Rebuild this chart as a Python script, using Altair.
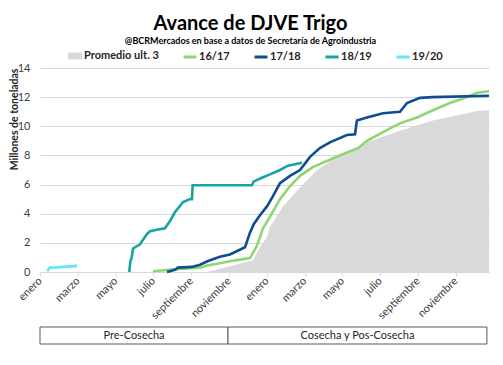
import altair as alt
import pandas as pd

# ---------------- data (x in months from January of the pre-harvest year) -------------
meses = ["enero", "febrero", "marzo", "abril", "mayo", "junio", "julio", "agosto",
         "septiembre", "octubre", "noviembre", "diciembre"]

prom_x = [8.84, 10.05, 11.27, 11.64, 12.01, 12.17, 12.86, 13.76, 14.66, 15.50, 16.40,
          17.30, 19.05, 20.79, 22.59, 23.12, 23.76]
prom_y = [0, 0.4, 0.8, 1.7, 2.4, 3.1, 4.5, 5.8, 7.0, 7.7, 8.2, 8.9, 9.7, 10.4, 10.9, 11.05, 11.1]

s1617_x = [5.98, 7.25, 8.47, 8.84, 9.52, 10.32, 11.11, 11.48, 11.80, 12.17, 12.70, 13.23,
           13.76, 14.44, 15.34, 16.24, 16.83, 17.30, 18.15, 19.05, 19.95, 20.79, 21.69,
           22.59, 23.12, 23.76]
s1617_y = [0.05, 0.2, 0.3, 0.45, 0.6, 0.8, 0.95, 1.8, 3.0, 3.8, 5.0, 5.9, 6.6, 7.2, 7.7,
           8.2, 8.5, 9.0, 9.6, 10.2, 10.6, 11.1, 11.6, 12.0, 12.3, 12.4]

s1718_x = [6.72, 7.14, 7.30, 8.04, 8.47, 8.89, 9.52, 10.05, 10.85, 11.11, 11.32, 11.64,
           12.01, 12.33, 12.70, 13.23, 13.76, 14.29, 14.81, 15.34, 16.24, 16.67, 16.77,
           17.30, 18.15, 19.05, 19.42, 20.11, 20.79, 23.76]
s1718_y = [0, 0.15, 0.3, 0.35, 0.5, 0.75, 1.05, 1.2, 1.7, 2.7, 3.3, 3.9, 4.5, 5.2, 6.1,
           6.6, 7.0, 7.9, 8.5, 8.9, 9.4, 9.45, 10.4, 10.6, 10.9, 11.0, 11.6, 11.95, 12.0, 12.1]

s1819_x = [4.72, 4.79, 4.84, 4.92, 5.03, 5.29, 5.66, 5.82, 6.19, 6.61, 6.88, 7.14, 7.57,
           7.94, 8.04, 8.08, 11.22, 11.30, 11.80, 12.17, 12.70, 13.12, 13.86]
s1819_y = [0, 0.8, 0.9, 1.6, 1.7, 1.9, 2.6, 2.8, 2.9, 3.0, 3.5, 4.1, 4.8, 5.0, 5.0, 5.95,
           5.95, 6.2, 6.5, 6.7, 7.0, 7.3, 7.5]

s1920_x = [0.39, 0.45, 0.53, 0.90, 1.43, 1.96]
s1920_y = [0.05, 0.2, 0.3, 0.32, 0.37, 0.42]

series_names = ["16/17", "17/18", "18/19", "19/20"]
series_colors = ["#8DD672", "#0E4C96", "#17A3A3", "#5CE8F6"]
prom_name = "Promedio ult. 3"

etapas = ["Pre-Cosecha", "Cosecha y Pos-Cosecha"]
etapa_ini = [0.0, 9.95]
etapa_fin = [9.95, 23.65]

x_max = 23.76
tick_vals = list(range(0, 23, 2))
y_vals = list(range(0, 15, 2))

# ---------------- frames -------------
prom_df = pd.DataFrame({"mes": prom_x, "valor": prom_y, "serie": prom_name})
lines_df = pd.concat([
    pd.DataFrame({"mes": xs, "valor": ys, "serie": n})
    for xs, ys, n in zip([s1617_x, s1718_x, s1819_x, s1920_x],
                         [s1617_y, s1718_y, s1819_y, s1920_y], series_names)
], ignore_index=True)
etapa_df = pd.DataFrame({"etapa": etapas, "ini": etapa_ini, "fin": etapa_fin,
                         "mid": [(a + b) / 2 for a, b in zip(etapa_ini, etapa_fin)]})

FONT = "Lato"
month_expr = "[" + ",".join("'%s'" % m for m in meses) + "][datum.value % 12]"

x_scale = alt.Scale(domain=[0, x_max], nice=False, zero=False)
y_scale = alt.Scale(domain=[0, 14], nice=False)

x_axis = alt.Axis(values=tick_vals, labelExpr=month_expr, labelAngle=-45, labelAlign="right",
                  labelBaseline="middle", grid=False, title=None, domainColor="#D9D9D9",
                  tickColor="#D9D9D9", tickSize=4, labelPadding=3, labelFont=FONT,
                  labelFontSize=11, labelColor="#404040", labelOverlap=False)
y_axis = alt.Axis(values=y_vals, grid=True, gridColor="#D9D9D9", domain=False,
                  ticks=False, labelPadding=10, labelFont=FONT, labelFontSize=11,
                  labelColor="#404040", title="Millones de toneladas", titleFont=FONT,
                  titleFontSize=10.5, titleFontWeight="bold", titleColor="#262626",
                  titleAngle=270, titleX=-23, titleY=0, titleAlign="right",
                  titleBaseline="alphabetic", labelOverlap=False)

X = alt.X("mes:Q", scale=x_scale, axis=x_axis)
Y = alt.Y("valor:Q", scale=y_scale, axis=y_axis)

area = alt.Chart(prom_df).mark_area(color="#D9D9D9").encode(
    x=X,
    y=Y,
    fill=alt.Fill("serie:N", scale=alt.Scale(domain=[prom_name], range=["#D9D9D9"]),
                  legend=alt.Legend(orient="none", legendX=28, legendY=-19, title=None,
                                    symbolType="M-1,-0.5H1V0.5H-1Z", symbolSize=196,
                                    symbolStrokeWidth=0, labelFont=FONT, labelFontSize=11,
                                    labelFontWeight="bold", labelColor="#262626",
                                    labelOffset=2)),
)

lines = alt.Chart(lines_df).mark_line(strokeWidth=2.6).encode(
    x=X,
    y=Y,
    stroke=alt.Stroke("serie:N", scale=alt.Scale(domain=series_names, range=series_colors),
                      legend=alt.Legend(orient="none", legendX=142, legendY=-19, title=None,
                                        direction="horizontal", columns=4, symbolType="stroke",
                                        symbolSize=169, symbolStrokeWidth=3, labelFont=FONT,
                                        labelFontSize=11, labelFontWeight="bold",
                                        labelColor="#262626", labelOffset=1,
                                        columnPadding=18)),
    detail="serie:N",
)

etapa_rect = alt.Chart(etapa_df).mark_rect(fill="white", stroke="#595959", strokeWidth=1).encode(
    x=alt.X("ini:Q", scale=x_scale, axis=x_axis),
    x2="fin:Q",
    y=alt.value(259),
    y2=alt.value(276),
)
etapa_text = alt.Chart(etapa_df).mark_text(font=FONT, fontSize=11, color="#262626").encode(
    x=alt.X("mid:Q", scale=x_scale, axis=x_axis),
    y=alt.value(268),
    text="etapa:N",
)

chart = alt.layer(area, lines, etapa_rect, etapa_text).properties(
    width=449,
    height=204,
    padding={"left": 32, "top": 60, "right": 6, "bottom": 85},
    autosize=alt.AutoSizeParams(type="none"),
    title=alt.TitleParams(
        text="Avance de DJVE Trigo",
        subtitle="@BCRMercados en base a datos de Secretaría de Agroindustria",
        font=FONT, fontSize=20, fontWeight="bold", color="#000000",
        subtitleFont=FONT, subtitleFontSize=9,
        subtitleFontWeight="bold", subtitleColor="#000000", subtitlePadding=3,
        anchor="middle", frame="group", dx=-14, offset=3,
    ),
).configure_view(stroke=None)

chart.save("out.html", embed_options={"renderer": "svg", "actions": False})
